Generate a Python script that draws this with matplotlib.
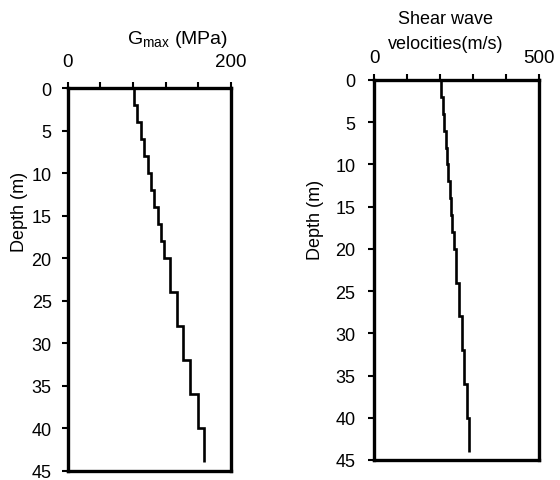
import matplotlib
matplotlib.use("Agg")
import matplotlib.pyplot as plt

plt.rcParams['font.family'] = ['Liberation Sans', 'DejaVu Sans']
plt.rcParams['mathtext.fontset'] = 'custom'
plt.rcParams['mathtext.rm'] = 'Liberation Sans'

# Layer boundaries (depth, m)
depth_edges = [0, 2, 4, 6, 8, 10, 12, 14, 16, 18, 20, 24, 28, 32, 36, 40, 44]
# Small-strain shear modulus per layer (MPa)
gmax = [81, 85, 89.5, 94, 98, 102.5, 106, 110, 114.5, 118.5, 125, 133.5, 141, 150, 159, 167]
# Shear wave velocity per layer (m/s)
vs = [203, 208, 213, 217, 221, 225, 229, 233, 237, 241, 249, 257, 265, 273, 281, 289]

depth_ticks = [0, 5, 10, 15, 20, 25, 30, 35, 40, 45]

FS = 13
W, H = 560, 481
fig = plt.figure(figsize=(W / 100, H / 100), dpi=100)

def style(ax, xmax, xstep, xpad, ypad):
    ax.set_ylim(45, 0)
    ax.set_xlim(0, xmax)
    ax.xaxis.set_ticks_position('top')
    ax.set_xticks([i * xstep for i in range(int(xmax / xstep) + 1)])
    ax.set_xticklabels(['0'] + [''] * (int(xmax / xstep) - 1) + [str(xmax)])
    ax.set_yticks(depth_ticks)
    ax.set_yticklabels([str(t) for t in depth_ticks])
    for sp in ax.spines.values():
        sp.set_linewidth(2.4)
    ax.tick_params(axis='x', direction='out', length=4, width=1.5, pad=xpad, labelsize=FS + 0.5)
    ax.tick_params(axis='y', direction='out', length=4.5, width=1.5, pad=ypad, labelsize=FS)

ax1 = fig.add_axes([67.7 / W, 1 - 472 / H, (231 - 67.7) / W, (472 - 89) / H])
ax1.stairs(gmax, depth_edges, orientation='horizontal', baseline=None, color='black', linewidth=1.9)
style(ax1, 200, 40, 9, 7)

ax2 = fig.add_axes([374.3 / W, 1 - 461 / H, (539 - 374.3) / W, (461 - 81) / H])
ax2.stairs(vs, depth_edges, orientation='horizontal', baseline=None, color='black', linewidth=1.9)
style(ax2, 500, 100, 6, 9)

fig.text(178 / W, 1 - 39 / H, r'G$_{\mathregular{max}}$ (MPa)', ha='center', va='center', fontsize=14)
fig.text(446 / W, 1 - 20 / H, 'Shear wave', ha='center', va='center', fontsize=FS)
fig.text(446 / W, 1 - 45 / H, 'velocities(m/s)', ha='center', va='center', fontsize=FS)
fig.text(20 / W, 1 - 212 / H, 'Depth (m)', ha='center', va='center', rotation=90, fontsize=FS)
fig.text(316 / W, 1 - 220 / H, 'Depth (m)', ha='center', va='center', rotation=90, fontsize=FS)

fig.savefig('out.png', dpi=100)
